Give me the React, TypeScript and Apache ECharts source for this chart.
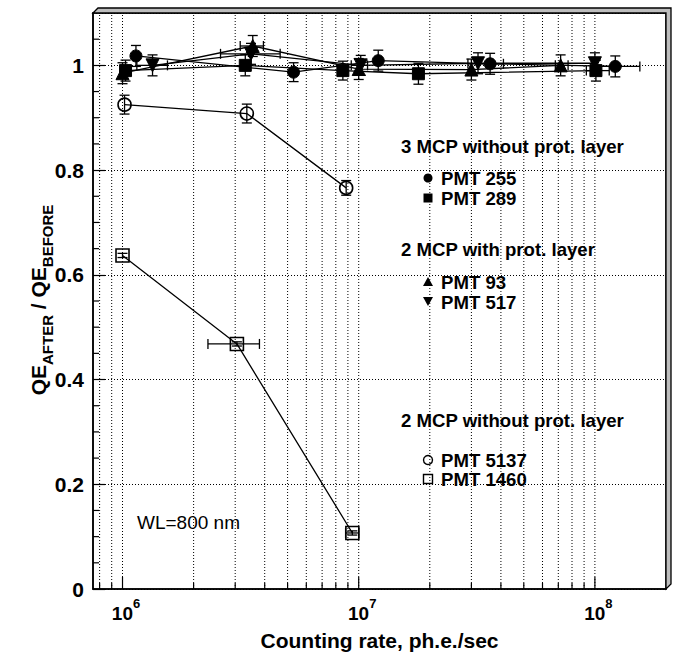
import React, { useEffect, useRef } from 'react';
import * as echarts from 'echarts';

const FONT = '"Liberation Sans", Arial, Helvetica, sans-serif';

// ---- axis ranges / ticks ----
const X_MIN = 7.5e5;
const X_MAX = 2e8;
const Y_MIN = 0;
const Y_MAX = 1.1;
const xDecades = [1e5, 1e6, 1e7, 1e8];
const xMultipliers = [1, 2, 3, 4, 5, 6, 7, 8, 9];
const yMinorTicks = [0.05, 0.1, 0.15, 0.25, 0.3, 0.35, 0.45, 0.5, 0.55, 0.65, 0.7, 0.75, 0.85, 0.9, 0.95, 1.05];

// ---- data: 3 MCP without protection layer ----
const pmt255X = [1.14e6, 5.3e6, 1.21e7, 3.6e7, 1.22e8];
const pmt255Y = [1.018, 0.987, 1.009, 1.003, 0.998];
const pmt255YErr = [0.02, 0.018, 0.02, 0.02, 0.02];
const pmt255XLo = [null, null, null, 2.9e7, 9.8e7];
const pmt255XHi = [null, null, null, 4.1e7, 1.55e8];

const pmt289X = [1.03e6, 3.31e6, 8.57e6, 1.79e7, 1.01e8];
const pmt289Y = [0.99, 1.0, 0.99, 0.984, 0.99];
const pmt289YErr = [0.02, 0.02, 0.018, 0.02, 0.02];
const pmt289XLo = [null, null, null, null, 9.2e7];
const pmt289XHi = [null, null, null, null, 1.15e8];

// ---- 2 MCP with protection layer ----
const pmt93X = [1.0e6, 3.56e6, 1.0e7, 3.0e7, 7.16e7];
const pmt93Y = [0.985, 1.037, 0.993, 0.992, 1.0];
const pmt93YErr = [0.02, 0.02, 0.02, 0.02, 0.02];
const pmt93XLo = [null, 3.15e6, null, null, 6.8e7];
const pmt93XHi = [null, 3.95e6, null, null, 7.7e7];

const pmt517X = [1.34e6, 3.5e6, 1.02e7, 3.2e7, 1.0e8];
const pmt517Y = [1.0, 1.022, 1.0, 1.004, 1.004];
const pmt517YErr = [0.02, 0.02, 0.019, 0.02, 0.02];
const pmt517XLo = [1.15e6, 2.6e6, 9.3e6, null, null];
const pmt517XHi = [1.55e6, 4.65e6, 1.09e7, null, null];

// ---- 2 MCP without protection layer ----
const pmt5137X = [1.02e6, 3.36e6, 8.85e6];
const pmt5137Y = [0.925, 0.908, 0.766];
const pmt5137YErr = [0.018, 0.018, 0.014];
const pmt5137XLo = [null, null, null];
const pmt5137XHi = [null, null, null];

const pmt1460X = [1.0e6, 3.05e6, 9.4e6];
const pmt1460Y = [0.637, 0.468, 0.107];
const pmt1460YErr = [0.004, 0.004, 0.004];
const pmt1460XLo = [null, 2.3e6, 8.8e6];
const pmt1460XHi = [null, 3.8e6, 1.0e7];

type Grp = {
  name: string;
  x: number[];
  y: number[];
  e: number[];
  lo: (number | null)[];
  hi: (number | null)[];
  symbol: string;
  rotate: number;
  size: number;
  filled: boolean;
};

const groups: Grp[] = [
  { name: 'PMT 255', x: pmt255X, y: pmt255Y, e: pmt255YErr, lo: pmt255XLo, hi: pmt255XHi, symbol: 'circle', rotate: 0, size: 12, filled: true },
  { name: 'PMT 289', x: pmt289X, y: pmt289Y, e: pmt289YErr, lo: pmt289XLo, hi: pmt289XHi, symbol: 'rect', rotate: 0, size: 12, filled: true },
  { name: 'PMT 93', x: pmt93X, y: pmt93Y, e: pmt93YErr, lo: pmt93XLo, hi: pmt93XHi, symbol: 'triangle', rotate: 0, size: 13, filled: true },
  { name: 'PMT 517', x: pmt517X, y: pmt517Y, e: pmt517YErr, lo: pmt517XLo, hi: pmt517XHi, symbol: 'triangle', rotate: 180, size: 13, filled: true },
  { name: 'PMT 5137', x: pmt5137X, y: pmt5137Y, e: pmt5137YErr, lo: pmt5137XLo, hi: pmt5137XHi, symbol: 'circle', rotate: 0, size: 13, filled: false },
  { name: 'PMT 1460', x: pmt1460X, y: pmt1460Y, e: pmt1460YErr, lo: pmt1460XLo, hi: pmt1460XHi, symbol: 'rect', rotate: 0, size: 13, filled: false },
];

const BLACK = '#000';

function ln(x1: number, y1: number, x2: number, y2: number, w = 1.2, dash?: number[]) {
  return {
    type: 'line',
    shape: { x1, y1, x2, y2 },
    style: { stroke: BLACK, lineWidth: w, lineDash: dash },
    silent: true,
  };
}

export default function App() {
  const ref = useRef<HTMLDivElement>(null);

  useEffect(() => {
    if (!ref.current) return;
    const chart = echarts.init(ref.current, undefined, { renderer: 'svg' });

    const xGridValues = xDecades
      .flatMap((d) => xMultipliers.map((m) => ({ v: m * d, major: m === 1 })))
      .filter((o) => o.v > X_MIN && o.v < X_MAX);

    const series: any[] = [];

    // dotted vertical grid + bottom ticks
    series.push({
      type: 'custom',
      name: 'xgrid',
      z: 1,
      silent: true,
      encode: { x: 0, y: 1 },
      data: xGridValues.map((o) => [o.v, Y_MIN, o.major ? 1 : 0]),
      renderItem: (params: any, api: any) => {
        const v = api.value(0);
        const major = api.value(2) === 1;
        const b = api.coord([v, Y_MIN]);
        const t = api.coord([v, Y_MAX]);
        return {
          type: 'group',
          children: [
            ln(b[0], b[1], t[0], t[1], 1, [1, 2]),
            ln(b[0], b[1], b[0], b[1] - (major ? 12 : 6), 1.2),
          ],
        };
      },
    });

    // y minor ticks
    series.push({
      type: 'custom',
      name: 'yminor',
      z: 1,
      silent: true,
      encode: { x: 0, y: 1 },
      data: yMinorTicks.map((v) => [X_MIN, v]),
      renderItem: (params: any, api: any) => {
        const p = api.coord([X_MIN, api.value(1)]);
        return ln(p[0], p[1], p[0] + 6, p[1], 1.2);
      },
    });

    groups.forEach((g) => {
      // error bars
      series.push({
        type: 'custom',
        name: g.name + ' err',
        z: 2,
        silent: true,
        encode: { x: 0, y: 1 },
        data: g.x.map((x, i) => [x, g.y[i], g.e[i], g.lo[i] ?? 0, g.hi[i] ?? 0]),
        renderItem: (params: any, api: any) => {
          const x = api.value(0);
          const y = api.value(1);
          const e = api.value(2);
          const lo = api.value(3);
          const hi = api.value(4);
          const ch: any[] = [];
          const cap = 5;
          if (e > 0) {
            const tp = api.coord([x, y + e]);
            const bt = api.coord([x, y - e]);
            ch.push(ln(tp[0], tp[1], bt[0], bt[1], 1.3));
            ch.push(ln(tp[0] - cap, tp[1], tp[0] + cap, tp[1], 1.3));
            ch.push(ln(bt[0] - cap, bt[1], bt[0] + cap, bt[1], 1.3));
          }
          if (lo > 0 && hi > 0) {
            const l = api.coord([lo, y]);
            const h = api.coord([hi, y]);
            ch.push(ln(l[0], l[1], h[0], h[1], 1.3));
            ch.push(ln(l[0], l[1] - cap, l[0], l[1] + cap, 1.3));
            ch.push(ln(h[0], h[1] - cap, h[0], h[1] + cap, 1.3));
          }
          return { type: 'group', children: ch };
        },
      });
      // points + connecting line
      series.push({
        type: 'line',
        name: g.name,
        z: 3,
        data: g.x.map((x, i) => [x, g.y[i]]),
        symbol: g.symbol,
        symbolSize: g.size,
        symbolRotate: g.rotate,
        showAllSymbol: true,
        lineStyle: { color: BLACK, width: 1.3 },
        itemStyle: g.filled
          ? { color: BLACK, borderColor: BLACK }
          : { color: 'none', borderColor: BLACK, borderWidth: 1.6 },
        emphasis: { disabled: true },
      });
    });

    const labelStyle = { fontFamily: FONT, fontWeight: 'bold' as const, color: BLACK };

    // legend as graphic elements
    const LX = 428;
    const legendText = (text: string, x: number, y: number) => ({
      type: 'text',
      x,
      y,
      silent: true,
      style: { text, font: `bold 18.6px ${FONT}`, fill: BLACK, align: 'left', verticalAlign: 'middle' },
    });
    const graphic: any[] = [
      // frame bevel
      {
        type: 'polygon',
        silent: true,
        shape: { points: [[93, 13], [98, 8], [671, 8], [671, 584], [666, 589], [666, 13]] },
        style: { fill: '#bdbdbd', stroke: BLACK, lineWidth: 1.3 },
      },
      legendText('3 MCP without prot. layer', 401, 146),
      { type: 'circle', silent: true, shape: { cx: LX, cy: 178, r: 4.5 }, style: { fill: BLACK } },
      legendText('PMT 255', 441, 178),
      { type: 'rect', silent: true, shape: { x: LX - 4.5, y: 198 - 4.5, width: 9, height: 9 }, style: { fill: BLACK } },
      legendText('PMT 289', 441, 198),
      legendText('2 MCP with prot. layer', 401, 249),
      { type: 'polygon', silent: true, shape: { points: [[LX, 277], [LX - 5, 286], [LX + 5, 286]] }, style: { fill: BLACK } },
      legendText('PMT 93', 441, 282),
      { type: 'polygon', silent: true, shape: { points: [[LX - 5, 297], [LX + 5, 297], [LX, 306]] }, style: { fill: BLACK } },
      legendText('PMT 517', 441, 302),
      legendText('2 MCP without prot. layer', 401, 420),
      { type: 'circle', silent: true, shape: { cx: LX, cy: 460, r: 4.5 }, style: { fill: 'none', stroke: BLACK, lineWidth: 1.4 } },
      legendText('PMT 5137', 441, 460),
      { type: 'rect', silent: true, shape: { x: LX - 4.5, y: 479 - 4.5, width: 9, height: 9 }, style: { fill: 'none', stroke: BLACK, lineWidth: 1.4 } },
      legendText('PMT 1460', 441, 479),
      {
        type: 'text',
        x: 137,
        y: 522,
        silent: true,
        style: { text: 'WL=800 nm', font: `19px ${FONT}`, fill: BLACK, align: 'left', verticalAlign: 'middle' },
      },
      // y axis title
      {
        type: 'text',
        x: 41,
        y: 300,
        rotation: Math.PI / 2,
        silent: true,
        style: {
          text: '{m|QE}{s|AFTER}{m| / QE}{s|BEFORE}',
          align: 'center',
          verticalAlign: 'middle',
          fill: BLACK,
          rich: {
            m: { fontFamily: FONT, fontWeight: 'bold', fontSize: 21, lineHeight: 24, verticalAlign: 'top', fill: BLACK },
            s: { fontFamily: FONT, fontWeight: 'bold', fontSize: 15, verticalAlign: 'top', padding: [12, 0, 0, 0], fill: BLACK },
          },
        },
      },
    ];

    chart.setOption({
      animation: false,
      backgroundColor: '#fff',
      grid: { left: 93, top: 13, width: 573, height: 576, show: true, borderColor: BLACK, borderWidth: 1.5, containLabel: false },
      xAxis: {
        type: 'log',
        logBase: 10,
        min: X_MIN,
        max: X_MAX,
        name: 'Counting rate, ph.e./sec',
        nameLocation: 'middle',
        nameGap: 41,
        nameTextStyle: { ...labelStyle, fontSize: 21 },
        axisLine: { show: true, lineStyle: { color: BLACK, width: 1.5 } },
        axisTick: { show: false },
        minorTick: { show: false },
        splitLine: { show: false },
        axisLabel: {
          showMinLabel: false,
          showMaxLabel: false,
          margin: 8,
          padding: [0, 0, 0, 7],
          formatter: (v: number) => `{b|10}{s|${Math.round(Math.log10(v))}}`,
          rich: {
            b: { ...labelStyle, fontSize: 19, lineHeight: 26, verticalAlign: 'bottom' },
            s: { ...labelStyle, fontSize: 13, lineHeight: 14, verticalAlign: 'top' },
          },
        },
      },
      yAxis: {
        type: 'value',
        min: Y_MIN,
        max: Y_MAX,
        interval: 0.2,
        axisLine: { show: true, lineStyle: { color: BLACK, width: 1.5 } },
        axisTick: { show: true, inside: true, length: 12, lineStyle: { color: BLACK, width: 1.2 } },
        minorTick: { show: false },
        splitLine: { show: true, lineStyle: { color: BLACK, width: 1, type: [1, 2] } },
        axisLabel: { ...labelStyle, fontSize: 21, margin: 9, showMaxLabel: false },
      },
      series,
      graphic,
    });

    return () => chart.dispose();
  }, []);

  return (
    <div
      ref={ref}
      style={{ position: 'absolute', left: 0, top: 0, width: 675, height: 656, background: '#fff' }}
    />
  );
}
